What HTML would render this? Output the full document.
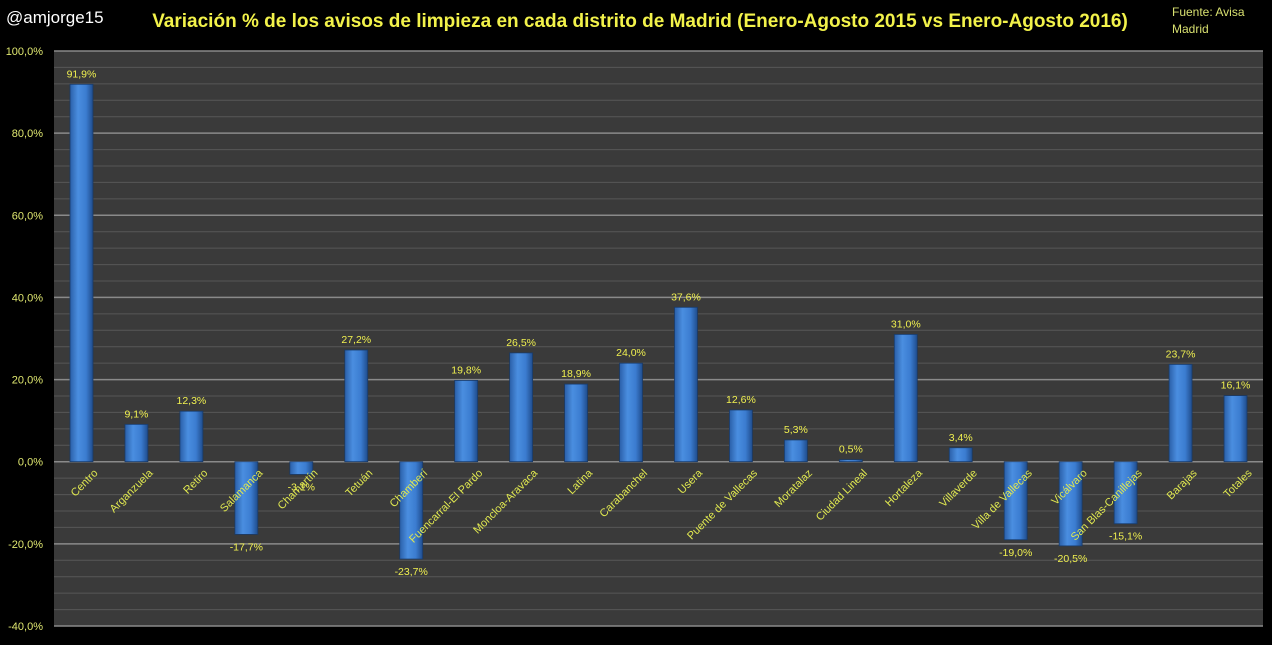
<!DOCTYPE html>
<html><head><meta charset="utf-8"><style>
body{margin:0;background:#000;width:1272px;height:640px;overflow:hidden;font-family:"Liberation Sans",sans-serif}
</style></head><body>
<svg id="c" width="1272" height="640" xmlns="http://www.w3.org/2000/svg">
<defs><linearGradient id="g" x1="0" x2="1" y1="0" y2="0">
<stop offset="0" stop-color="#2a5fa8"/><stop offset="0.35" stop-color="#4a8ee0"/><stop offset="0.7" stop-color="#3b7cd0"/><stop offset="1" stop-color="#1f4c8c"/></linearGradient></defs>
<text x="6" y="23" fill="#fff" font-size="17">@amjorge15</text>
<text x="640" y="27" fill="#f2f24a" font-size="19" font-weight="bold" text-anchor="middle">Variación % de los avisos de limpieza en cada distrito de Madrid (Enero-Agosto 2015 vs Enero-Agosto 2016)</text>
<text x="1172" y="16" fill="#d8e070" font-size="12">Fuente: Avisa</text>
<text x="1172" y="33" fill="#d8e070" font-size="12">Madrid</text>
<g id="plot"></g>
</svg>
<script>
const categories=["Centro","Arganzuela","Retiro","Salamanca","Chamartín","Tetuán","Chamberí","Fuencarral-El Pardo","Moncloa-Aravaca","Latina","Carabanchel","Usera","Puente de Vallecas","Moratalaz","Ciudad Lineal","Hortaleza","Villaverde","Villa de Vallecas","Vicálvaro","San Blas-Canillejas","Barajas","Totales"];
const values=[91.9,9.1,12.3,-17.7,-3.1,27.2,-23.7,19.8,26.5,18.9,24.0,37.6,12.6,5.3,0.5,31.0,3.4,-19.0,-20.5,-15.1,23.7,16.1];
const ticks=[-40,-20,0,20,40,60,80,100];
const NS="http://www.w3.org/2000/svg";
const L=54,R=1263,T=51,B=626,ymin=-40,ymax=100;
const y=v=>T+(ymax-v)/(ymax-ymin)*(B-T);
const step=(R-L)/categories.length;
const x=i=>L+step*(i+0.5);
const g=document.getElementById('plot');
function mk(t,a,p){const e=document.createElementNS(NS,t);for(const k in a)e.setAttribute(k,a[k]);(p||g).appendChild(e);return e;}
const bg=mk('rect',{x:L,y:T,width:R-L,height:B-T,fill:'#3a3a3a'});


for(let v=ymin;v<=ymax;v+=4){const major=(v%20===0);
const ln=mk('line',{x1:L,x2:R,y1:y(v),y2:y(v),stroke:major?'#8a8a8a':'#575757','stroke-width':major?1.5:1});

}
ticks.forEach(t=>{const e=mk('text',{x:L-11,y:y(t)+4,fill:'#e0e870','font-size':11,'text-anchor':'end'});e.textContent=t.toFixed(1).replace('.',',')+'%';

});
const bw=23;
values.forEach((v,i)=>{const cx=x(i);const y0=y(0),yv=y(v);
const r=mk('rect',{x:cx-bw/2,y:Math.min(y0,yv),width:bw,height:Math.max(1,Math.abs(yv-y0)),fill:'url(#g)',stroke:'#1a3a66','stroke-width':0.8});


const lb=mk('text',{x:cx,y:v>=0?yv-7:yv+16,fill:'#f0f050','font-size':10.5,'text-anchor':'middle'});
lb.textContent=v.toFixed(1).replace('.',',')+'%';


const cl=mk('text',{x:cx+17,y:y0+12,fill:'#e0e850','font-size':11,'text-anchor':'end',transform:`rotate(-45 ${cx+17} ${y0+12})`});
cl.textContent=categories[i];

});
</script>
</body></html>
